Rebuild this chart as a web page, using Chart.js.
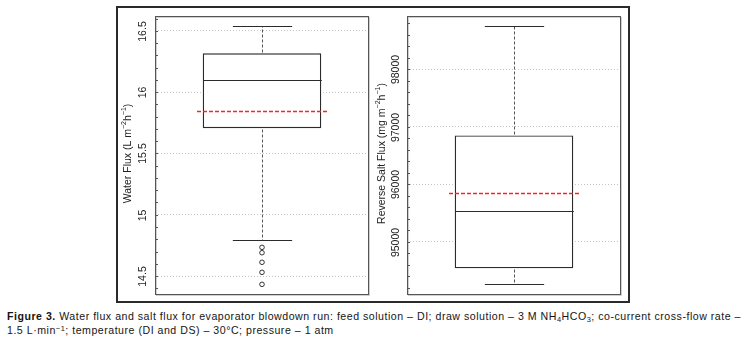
<!DOCTYPE html>
<html lang="en">
<head>
<meta charset="UTF-8">
<title>Figure 3</title>
<script src="https://cdn.jsdelivr.net/npm/chart.js"></script>
<style>
    body { margin: 0; background: #fff; font-family: "Liberation Sans", Arial, sans-serif; }
    #frame { position: absolute; left: 116px; top: 6px; width: 514px; height: 297px; box-sizing: border-box; border: 2px solid #2a2a2a; }
    canvas { position: absolute; }
    #waterChart { left: 117px; top: 8px; }
    #saltChart { left: 372px; top: 8px; }
    #caption { position: absolute; left: 7px; top: 309px; font-size: 10.6px; line-height: 14px; color: #151515; white-space: nowrap; }
    #caption sub, #caption sup { font-size: 0.7em; line-height: 0; position: relative; vertical-align: baseline; }
    #caption sub { top: 0.3em; }
    #caption sup { top: -0.4em; }
</style>
</head>
<body>
<div id="frame"></div>
<canvas id="waterChart" width="258" height="293"></canvas>
<canvas id="saltChart" width="256" height="293"></canvas>
<div id="caption"><span id="line1"><b>Figure 3.</b> Water flux and salt flux for evaporator blowdown run: feed solution – DI; draw solution – 3 M NH<sub>4</sub>HCO<sub>3</sub>; co-current cross-flow rate –</span><br>1.5 L·min<sup>−1</sup>; temperature (DI and DS) – 30°C; pressure – 1 atm</div>

<script>
// box stats: [lower whisker, Q1, median, Q3, upper whisker]
const runLabel = ['run'];
const waterStats = [14.79, 15.706, 16.098, 16.318, 16.54];
const waterMean = 15.847;
const waterOutliers = [14.734, 14.69, 14.612, 14.53, 14.432];
const waterRange = [14.345, 16.622];
const waterSteps = [0.1, 0.5];   // minor, major
const waterTitle = [['Water Flux (L m', 0], ['−2', 1], ['h', 0], ['−1', 1], [')', 0]];

const saltStats = [94258, 94537, 95529, 96850, 98754];
const saltMean = 95855;
const saltOutliers = [];
const saltRange = [94072, 98928];
const saltSteps = [200, 1000];
const saltTitle = [['Reverse Salt Flux (mg m', 0], ['−2', 1], ['h', 0], ['−1', 1], [')', 0]];

const meanColor = '#ff2020';

const isMajor = (v, step) => Math.abs(v / step - Math.round(v / step)) < 1e-6;

const boxPlugin = {
    id: 'boxExtras',
    afterDatasetsDraw(chart, args, o) {
        const ctx = chart.ctx;
        const y = chart.scales.y;
        const bar = chart.getDatasetMeta(0).data[0];
        const cx = Math.round(bar.x) + 0.5;
        const half = bar.width / 2;
        const py = v => Math.round(y.getPixelForValue(v)) + 0.5;
        const s = o.stats;
        ctx.save();
        // whisker stems
        ctx.strokeStyle = '#555';
        ctx.lineWidth = 1;
        ctx.setLineDash([3, 2]);
        ctx.beginPath();
        ctx.moveTo(cx, py(s[3]) - 1); ctx.lineTo(cx, py(s[4]));
        ctx.moveTo(cx, py(s[1]) + 1); ctx.lineTo(cx, py(s[0]));
        ctx.stroke();
        // caps and median
        ctx.setLineDash([]);
        ctx.strokeStyle = '#2b2b2b';
        ctx.lineWidth = 1.2;
        ctx.beginPath();
        ctx.moveTo(cx - half / 2, py(s[4])); ctx.lineTo(cx + half / 2, py(s[4]));
        ctx.moveTo(cx - half / 2, py(s[0])); ctx.lineTo(cx + half / 2, py(s[0]));
        ctx.moveTo(cx - half, py(s[2])); ctx.lineTo(cx + half, py(s[2]));
        ctx.stroke();
        // mean
        ctx.strokeStyle = meanColor;
        ctx.lineWidth = 1.3;
        ctx.setLineDash([4, 2]);
        ctx.beginPath();
        ctx.moveTo(cx - half * 1.105, py(o.mean)); ctx.lineTo(cx + half * 1.105, py(o.mean));
        ctx.stroke();
        ctx.restore();
    },
    afterDraw(chart, args, o) {
        const ctx = chart.ctx;
        const a = chart.chartArea;
        const y = chart.scales.y;
        ctx.save();
        // plot frame
        ctx.strokeStyle = '#d0d0d0';
        ctx.lineWidth = 1;
        ctx.strokeRect(a.left + 1.5, a.top + 1.5, a.right - a.left - 1, a.bottom - a.top - 1);
        ctx.strokeStyle = '#555';
        ctx.strokeRect(a.left + 0.5, a.top + 0.5, a.right - a.left - 1, a.bottom - a.top - 1);
        // inward ticks and rotated labels
        ctx.fillStyle = '#222';
        ctx.font = '10.5px "Liberation Sans", Arial, sans-serif';
        ctx.textAlign = 'center';
        ctx.textBaseline = 'middle';
        y.ticks.forEach(t => {
            const p = Math.round(y.getPixelForValue(t.value)) + 0.5;
            ctx.strokeStyle = '#555';
            ctx.beginPath();
            ctx.moveTo(a.left, p); ctx.lineTo(a.left + 3, p);
            ctx.stroke();
            if (isMajor(t.value, o.major)) {
                ctx.save();
                ctx.translate(a.left - o.labelGap, p);
                ctx.rotate(-Math.PI / 2);
                ctx.fillText(String(t.value), 0, 0);
                ctx.restore();
            }
        });
        // axis title with superscripts
        ctx.save();
        ctx.translate(a.left - o.titleGap, (a.top + a.bottom) / 2 - 2);
        ctx.rotate(-Math.PI / 2);
        ctx.textAlign = 'left';
        ctx.textBaseline = 'middle';
        const fontFor = sup => (sup ? '7px' : '10.5px') + ' "Liberation Sans", Arial, sans-serif';
        let w = 0;
        o.title.forEach(([txt, sup]) => { ctx.font = fontFor(sup); w += ctx.measureText(txt).width; });
        let xx = -w / 2;
        o.title.forEach(([txt, sup]) => {
            ctx.font = fontFor(sup);
            ctx.fillText(txt, xx, sup ? -4 : 0);
            xx += ctx.measureText(txt).width;
        });
        ctx.restore();
        ctx.restore();
    }
};

function makePanel(id, stats, mean, outliers, range, steps, title, yWidth, padRight, titleGap, labelGap) {
    return new Chart(document.getElementById(id), {
        type: 'bar',
        data: {
            labels: runLabel,
            datasets: [{
                data: [[stats[1], stats[3]]],
                backgroundColor: '#fff',
                borderColor: '#2b2b2b',
                borderWidth: 1.4,
                borderSkipped: false,
                barPercentage: 0.554,
                categoryPercentage: 1
            }, {
                type: 'line',
                data: outliers.map(v => ({ x: runLabel[0], y: v })),
                showLine: false,
                pointRadius: 2.3,
                pointBorderWidth: 1,
                pointBorderColor: '#333',
                pointBackgroundColor: '#fff'
            }]
        },
        options: {
            responsive: false,
            animation: false,
            events: [],
            layout: { padding: { top: 8, bottom: 6, left: 0, right: padRight } },
            plugins: {
                legend: { display: false },
                tooltip: { enabled: false },
                boxExtras: { stats: stats, mean: mean, major: steps[1], title: title, titleGap: titleGap, labelGap: labelGap }
            },
            scales: {
                x: { display: false },
                y: {
                    min: range[0],
                    max: range[1],
                    afterFit: s => { s.width = yWidth; },
                    border: { display: false, dash: [1, 2] },
                    grid: {
                        drawTicks: false,
                        color: c => isMajor(c.tick.value, steps[1]) ? '#c4c4c4' : 'rgba(0,0,0,0)'
                    },
                    ticks: { display: false, stepSize: steps[0], includeBounds: false, maxTicksLimit: 100, autoSkip: false }
                }
            }
        },
        plugins: [boxPlugin]
    });
}

makePanel('waterChart', waterStats, waterMean, waterOutliers, waterRange, waterSteps, waterTitle, 38, 6, 27, 12);
makePanel('saltChart', saltStats, saltMean, saltOutliers, saltRange, saltSteps, saltTitle, 35, 7, 25, 11);

// stretch first caption line to the width of the original
const line1 = document.getElementById('line1');
const target = 734;
const w1 = line1.getBoundingClientRect().width;
const chars = line1.textContent.length;
document.getElementById('caption').style.letterSpacing = ((target - w1) / chars) + 'px';
</script>
</body>
</html>
